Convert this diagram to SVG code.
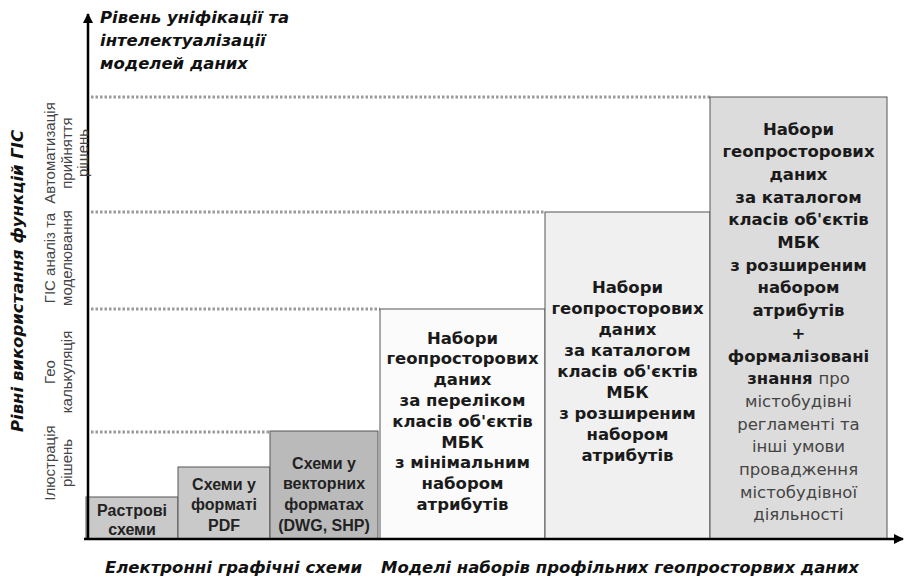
<svg xmlns="http://www.w3.org/2000/svg" width="905" height="579" viewBox="0 0 905 579">
<style>
.axlbl{font-family:"DejaVu Sans",Verdana,sans-serif;font-weight:bold;font-style:italic;font-size:16.5px;fill:#111}
.cat{font-family:"Liberation Sans",Arial,sans-serif;font-size:15px;fill:#444;text-anchor:middle}
.sb{font-family:"Liberation Sans",Arial,sans-serif;font-weight:bold;font-size:16px;fill:#222;text-anchor:middle}
.bb{font-family:"DejaVu Sans",Verdana,sans-serif;font-weight:bold;font-size:16.5px;fill:#1a1a1a;text-anchor:middle}
.rg{font-weight:normal;fill:#444}
.box{stroke:#555;stroke-width:1}
.dot{stroke:#9a9a9a;stroke-width:3;stroke-dasharray:2.5 2;fill:none}
.axis{stroke:#000;stroke-width:2.5;fill:none}
</style>
<defs>
<marker id="arr" viewBox="0 0 10 10" refX="9" refY="5" markerWidth="4" markerHeight="4" orient="auto" markerUnits="strokeWidth">
<path d="M0,0 L10,5 L0,10 z" fill="#000"/>
</marker>
</defs>

<g id="levels">
<line class="dot" x1="91" y1="97" x2="710" y2="97"/>
<line class="dot" x1="91" y1="212" x2="545" y2="212"/>
<line class="dot" x1="91" y1="309" x2="380" y2="309"/>
<line class="dot" x1="91" y1="432" x2="270" y2="432"/>
</g>

<g id="box1">
<rect class="box" x="86" y="497" width="92" height="42" fill="#c9c9c9"/>
<text class="sb" x="132" y="515.5">Растрові</text>
<text class="sb" x="132" y="535">схеми</text>
</g>
<g id="box2">
<rect class="box" x="178" y="467" width="92" height="72" fill="#c9c9c9"/>
<text class="sb" x="224" y="489.5">Схеми у</text>
<text class="sb" x="224" y="510">форматі</text>
<text class="sb" x="224" y="530.5">PDF</text>
</g>
<g id="box3">
<rect class="box" x="270" y="431" width="108" height="108" fill="#bababa"/>
<text class="sb" x="324" y="468.5">Схеми у</text>
<text class="sb" x="324" y="489">векторних</text>
<text class="sb" x="324" y="510">форматах</text>
<text class="sb" x="324" y="530.5">(DWG, SHP)</text>
</g>
<g id="box4">
<rect class="box" x="380" y="309" width="165" height="230" fill="#fbfbfb"/>
<text class="bb" x="462.5" y="343.5">Набори</text>
<text class="bb" x="462.5" y="364.3">геопросторових</text>
<text class="bb" x="462.5" y="385.1">даних</text>
<text class="bb" x="462.5" y="405.9">за переліком</text>
<text class="bb" x="462.5" y="426.7">класів об'єктів</text>
<text class="bb" x="462.5" y="447.5">МБК</text>
<text class="bb" x="462.5" y="468.3">з мінімальним</text>
<text class="bb" x="462.5" y="489.1">набором</text>
<text class="bb" x="462.5" y="509.9">атрибутів</text>
</g>
<g id="box5">
<rect class="box" x="545" y="212" width="165" height="327" fill="#f0f0f0"/>
<text class="bb" x="627.5" y="292.5">Набори</text>
<text class="bb" x="627.5" y="313.5">геопросторових</text>
<text class="bb" x="627.5" y="334.5">даних</text>
<text class="bb" x="627.5" y="355.5">за каталогом</text>
<text class="bb" x="627.5" y="376.5">класів об'єктів</text>
<text class="bb" x="627.5" y="397.5">МБК</text>
<text class="bb" x="627.5" y="418.5">з розширеним</text>
<text class="bb" x="627.5" y="439.5">набором</text>
<text class="bb" x="627.5" y="460.5">атрибутів</text>
</g>
<g id="box6">
<rect class="box" x="710" y="97" width="177" height="442" fill="#dcdcdc"/>
<text class="bb" x="798.5" y="134.5">Набори</text>
<text class="bb" x="798.5" y="157.2">геопросторових</text>
<text class="bb" x="798.5" y="179.9">даних</text>
<text class="bb" x="798.5" y="202.6">за каталогом</text>
<text class="bb" x="798.5" y="225.3">класів об'єктів</text>
<text class="bb" x="798.5" y="248">МБК</text>
<text class="bb" x="798.5" y="270.7">з розширеним</text>
<text class="bb" x="798.5" y="293.4">набором</text>
<text class="bb" x="798.5" y="316.1">атрибутів</text>
<text class="bb" x="798.5" y="338.8">+</text>
<text class="bb" x="798.5" y="361.5">формалізовані</text>
<text class="bb" x="798.5" y="384.2">знання <tspan class="rg">про</tspan></text>
<text class="bb rg" x="798.5" y="406.9">містобудівні</text>
<text class="bb rg" x="798.5" y="429.6">регламенті та</text>
<text class="bb rg" x="798.5" y="452.3">інші умови</text>
<text class="bb rg" x="798.5" y="475">провадження</text>
<text class="bb rg" x="798.5" y="497.7">містобудівної</text>
<text class="bb rg" x="798.5" y="520.4">діяльності</text>
</g>

<g id="axes">
<line class="axis" x1="88" y1="540" x2="88" y2="14" marker-end="url(#arr)"/>
<line class="axis" x1="84" y1="539" x2="903" y2="539" marker-end="url(#arr)"/>
</g>

<g id="axis-labels">
<text class="axlbl" x="100" y="23">Рівень уніфікації та</text>
<text class="axlbl" x="100" y="46">інтелектуалізації</text>
<text class="axlbl" x="100" y="69">моделей даних</text>
<text class="axlbl" text-anchor="middle" font-size="16" transform="translate(23,281) rotate(-90)">Рівні використання функцій ГІС</text>
<text class="axlbl" x="105" y="573" font-size="16">Електронні графічні схеми</text>
<text class="axlbl" x="381" y="573" font-size="16.8">Моделі наборів профільних геопросторвих даних</text>
</g>

<g id="categories">
<text class="cat" transform="translate(55,153) rotate(-90)">Автоматизація</text>
<text class="cat" transform="translate(72,153) rotate(-90)">прийняття</text>
<text class="cat" transform="translate(87.5,153) rotate(-90)">рішень</text>
<text class="cat" transform="translate(55,258) rotate(-90)">ГІС аналіз та</text>
<text class="cat" transform="translate(72,258) rotate(-90)">моделювання</text>
<text class="cat" transform="translate(55,372) rotate(-90)">Гео</text>
<text class="cat" transform="translate(72,372) rotate(-90)">калькуляція</text>
<text class="cat" transform="translate(55,463) rotate(-90)">Ілюстрація</text>
<text class="cat" transform="translate(72,463) rotate(-90)">рішень</text>
</g>
</svg>
